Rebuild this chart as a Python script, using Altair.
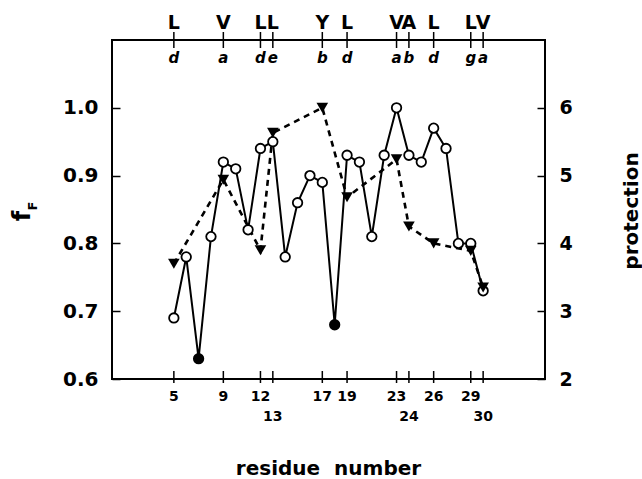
import altair as alt
import pandas as pd

# ---- data ----
residues = list(range(5, 31))
f_F = [0.69, 0.78, 0.63, 0.81, 0.92, 0.91, 0.82, 0.94, 0.95, 0.78, 0.86, 0.90, 0.89,
       0.68, 0.93, 0.92, 0.81, 0.93, 1.00, 0.93, 0.92, 0.97, 0.94, 0.80, 0.80, 0.73]
filled_residues = [7, 18]

prot_residues = [5, 9, 12, 13, 17, 19, 23, 24, 26, 29, 30]
protection = [3.70, 4.94, 3.90, 5.63, 6.00, 4.68, 5.24, 4.25, 4.00, 3.89, 3.35]
amino_acids = ["L", "V", "L", "L", "Y", "L", "V", "A", "L", "L", "V"]
heptad = ["d", "a", "d", "e", "b", "d", "a", "b", "d", "g", "a"]
second_row = [13, 24, 30]

f_ticks = [0.6, 0.7, 0.8, 0.9, 1.0]
p_ticks = [2, 3, 4, 5, 6]

FONT = "DejaVu Sans"
W, H = 433, 339

df_f = pd.DataFrame({
    "res": residues,
    "f": f_F,
    "state": ["filled" if r in filled_residues else "open" for r in residues],
})
df_p = pd.DataFrame({"res": prot_residues, "p": protection,
                     "aa": amino_acids, "hep": heptad})
df_lab = pd.DataFrame({"res": prot_residues,
                       "lab": [str(r) for r in prot_residues],
                       "row": [2 if r in second_row else 1 for r in prot_residues]})

xs = alt.Scale(domain=[0, 35], nice=False, zero=False)
fs = alt.Scale(domain=[0.6, 1.1], nice=False, zero=False)
ps = alt.Scale(domain=[2, 7], nice=False, zero=False)

X = alt.X("res:Q", scale=xs, axis=None)

dashed = alt.Chart(df_p).mark_line(color="black", strokeWidth=2.6, strokeDash=[6, 5]).encode(
    x=X, y=alt.Y("p:Q", scale=ps, axis=None))

solid = alt.Chart(df_f).mark_line(color="black", strokeWidth=2).encode(
    x=X, y=alt.Y("f:Q", scale=fs, axis=None))

circles = alt.Chart(df_f).mark_point(shape="circle", filled=True, size=90,
                                      stroke="black", strokeWidth=1.8, opacity=1).encode(
    x=X,
    y=alt.Y("f:Q", scale=fs, axis=alt.Axis(
        orient="left", values=f_ticks, format=".1f", offset=-8, tickSize=8,
        tickColor="black", tickWidth=1.5, domain=False, grid=False,
        labelFont=FONT, labelFontSize=20, labelFontWeight="bold", labelColor="black",
        labelPadding=14, title=None)),
    fill=alt.Fill("state:N", scale=alt.Scale(domain=["open", "filled"], range=["white", "black"]),
                  legend=None),
)

triangles = alt.Chart(df_p).mark_point(shape="triangle-down", filled=True, size=135,
                                        color="black", opacity=1).encode(
    x=X,
    y=alt.Y("p:Q", scale=ps, axis=alt.Axis(
        orient="right", values=p_ticks, format="d", offset=-8, tickSize=8,
        tickColor="black", tickWidth=1.5, domain=False, grid=False,
        labelFont=FONT, labelFontSize=19, labelFontWeight="bold", labelColor="black",
        labelPadding=14, title=None)),
)

top_ticks = alt.Chart(df_p).mark_rule(color="black", strokeWidth=1.5).encode(
    x=X, y=alt.value(-8), y2=alt.value(8))
bottom_ticks = alt.Chart(df_p).mark_rule(color="black", strokeWidth=1.5).encode(
    x=X, y=alt.value(H - 8), y2=alt.value(H + 4))

aa_text = alt.Chart(df_p).mark_text(font=FONT, fontSize=19, fontWeight="bold",
                                    baseline="alphabetic", color="black").encode(
    x=X, y=alt.value(-11), text="aa:N")
hep_text = alt.Chart(df_p).mark_text(font=FONT, fontSize=15, fontWeight="bold",
                                     fontStyle="italic", baseline="alphabetic",
                                     color="black").encode(
    x=X, y=alt.value(23), text="hep:N")

row1 = alt.Chart(df_lab).transform_filter("datum.row == 1").mark_text(
    font=FONT, fontSize=14, fontWeight="bold", baseline="middle", color="black").encode(
    x=X, y=alt.value(H + 18), text="lab:N")
row2 = alt.Chart(df_lab).transform_filter("datum.row == 2").mark_text(
    font=FONT, fontSize=14, fontWeight="bold", baseline="middle", color="black").encode(
    x=X, y=alt.value(H + 38), text="lab:N")

titles_df = pd.DataFrame({"t": ["residue \u00a0number"]})
x_title = alt.Chart(titles_df).mark_text(font=FONT, fontSize=20, fontWeight="bold",
                                         baseline="alphabetic", color="black").encode(
    x=alt.value(W / 2), y=alt.value(H + 96), text="t:N")
p_title = alt.Chart(pd.DataFrame({"t": ["protection"]})).mark_text(
    font=FONT, fontSize=20, fontWeight="bold", angle=270, baseline="alphabetic",
    color="black").encode(x=alt.value(W + 93), y=alt.value(171), text="t:N")
f_title = alt.Chart(pd.DataFrame({"t": ["f"]})).mark_text(
    font=FONT, fontSize=24, fontWeight="bold", angle=270, baseline="alphabetic",
    color="black").encode(x=alt.value(-82), y=alt.value(176), text="t:N")
f_sub = alt.Chart(pd.DataFrame({"t": ["F"]})).mark_text(
    font=FONT, fontSize=13, fontWeight="bold", angle=270, baseline="alphabetic",
    color="black").encode(x=alt.value(-75), y=alt.value(166), text="t:N")

chart = alt.layer(
    dashed, solid, circles, triangles, top_ticks, bottom_ticks,
    aa_text, hep_text, row1, row2, x_title, p_title, f_title, f_sub,
).resolve_scale(y="independent").properties(
    width=W, height=H,
    autosize=alt.AutoSizeParams(type="none"),
    padding={"left": 112, "top": 40, "right": 97, "bottom": 100},
    background="white",
).configure_view(stroke="black", strokeWidth=2)

chart.save("out.html", embed_options={"renderer": "svg", "actions": False})
